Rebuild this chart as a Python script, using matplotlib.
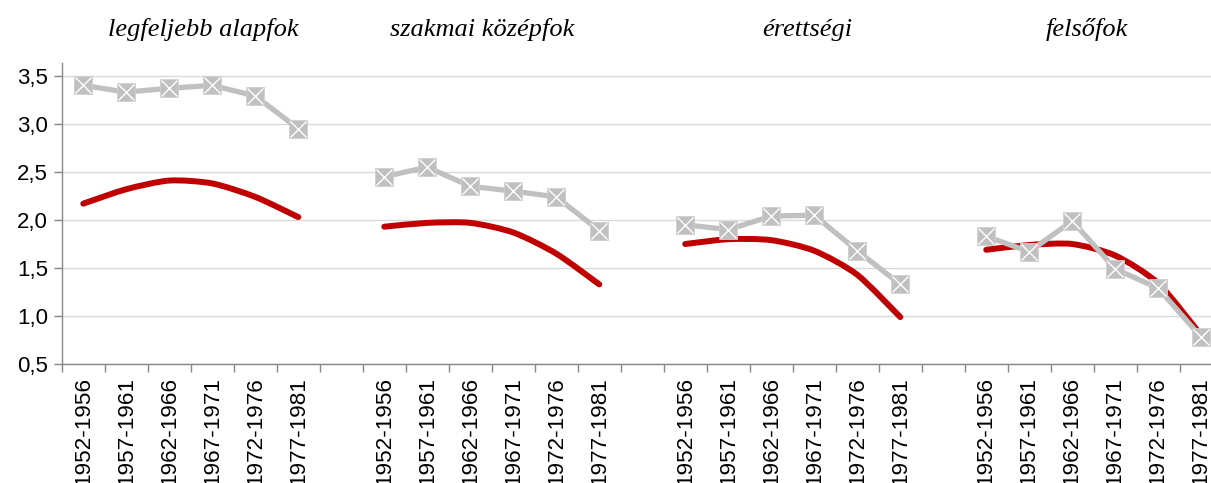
import numpy as np
import matplotlib
matplotlib.use("Agg")
import matplotlib.pyplot as plt
import matplotlib.transforms as mtransforms
from matplotlib.path import Path
from matplotlib.patches import PathPatch

# data
groups = ["legfeljebb alapfok", "szakmai középfok", "érettségi", "felsőfok"]
cohorts = ["1952-1956", "1957-1961", "1962-1966", "1967-1971", "1972-1976", "1977-1981"]

grey_vals = [
    [3.40, 3.33, 3.37, 3.40, 3.29, 2.95],
    [2.45, 2.55, 2.35, 2.30, 2.24, 1.89],
    [1.95, 1.90, 2.04, 2.05, 1.68, 1.33],
    [1.83, 1.67, 1.99, 1.49, 1.29, 0.78],
]
red_vals = [
    [2.17, 2.32, 2.41, 2.38, 2.24, 2.03],
    [1.93, 1.97, 1.97, 1.87, 1.65, 1.33],
    [1.75, 1.80, 1.79, 1.68, 1.43, 0.99],
    [1.69, 1.74, 1.75, 1.63, 1.34, 0.80],
]

RED = "#C00000"
GREY = "#C0C0C0"


def smooth_path(x, y, k=8.0):
    # Excel-like smoothed line: cubic bezier segments through the points
    verts = [(x[0], y[0])]
    codes = [Path.MOVETO]
    n = len(x)
    for i in range(n - 1):
        x0, y0 = (x[i - 1], y[i - 1]) if i > 0 else (x[i], y[i])
        x3, y3 = (x[i + 2], y[i + 2]) if i + 2 < n else (x[i + 1], y[i + 1])
        c1 = (x[i] + (x[i + 1] - x0) / k, y[i] + (y[i + 1] - y0) / k)
        c2 = (x[i + 1] - (x3 - x[i]) / k, y[i + 1] - (y3 - y[i]) / k)
        verts += [c1, c2, (x[i + 1], y[i + 1])]
        codes += [Path.CURVE4] * 3
    return Path(verts, codes)


fig = plt.figure(figsize=(12.11, 4.83), dpi=100)
ax = fig.add_axes([0.051, 0.246, 0.9587, 0.624])

ncat = len(groups) * 7 - 1
labels = []
for g in range(len(groups)):
    xs = np.arange(6) + g * 7
    ax.add_patch(PathPatch(smooth_path(xs, red_vals[g]), fill=False, edgecolor=RED,
                           lw=4.3, capstyle="round", joinstyle="round", zorder=2))
    ax.plot(xs, grey_vals[g], color=GREY, lw=3.8, zorder=3, solid_joinstyle="round")
    ax.plot(xs, grey_vals[g], ls="none", marker="s", ms=12.5, mfc=GREY, mec="#D0D0D0",
            mew=0.6, zorder=4)
    ax.plot(xs, grey_vals[g], ls="none", marker="x", ms=12, mec="white", mew=1.0, zorder=5)
    labels += cohorts + ([""] if g < len(groups) - 1 else [])

ax.set_xlim(-0.5, ncat - 0.5)
ax.set_ylim(0.5, 3.635)
yt = np.arange(0.5, 3.51, 0.5)
ax.set_yticks(yt)
ax.set_yticklabels([f"{v:.1f}".replace(".", ",") for v in yt],
                   fontsize=16, family="Liberation Sans")
ax.set_xticks(np.arange(ncat))
ax.set_xticklabels(labels, rotation=90, fontsize=16.2, family="Liberation Sans")
ax.set_xticks(np.arange(ncat + 1) - 0.5, minor=True)
ax.tick_params(axis="x", which="major", length=0, pad=9)
ax.tick_params(axis="x", which="minor", length=6, color="#868686", width=1)
ax.tick_params(axis="y", length=6, color="#868686", width=1, pad=4)

ax.grid(axis="y", color="#D9D9D9", lw=1)
ax.set_axisbelow(True)
for s in ["top", "right"]:
    ax.spines[s].set_visible(False)
for s in ["left", "bottom"]:
    ax.spines[s].set_color("#868686")
    ax.spines[s].set_linewidth(1)

title_x = [2.79, 9.28, 16.83, 23.34]
trans = mtransforms.blended_transform_factory(ax.transData, fig.transFigure)
for t, xpos in zip(groups, title_x):
    ax.text(xpos, 0.938, t, transform=trans, ha="center", va="center",
            fontsize=19, style="italic", family="Liberation Serif")

fig.savefig("out.png", dpi=100)
